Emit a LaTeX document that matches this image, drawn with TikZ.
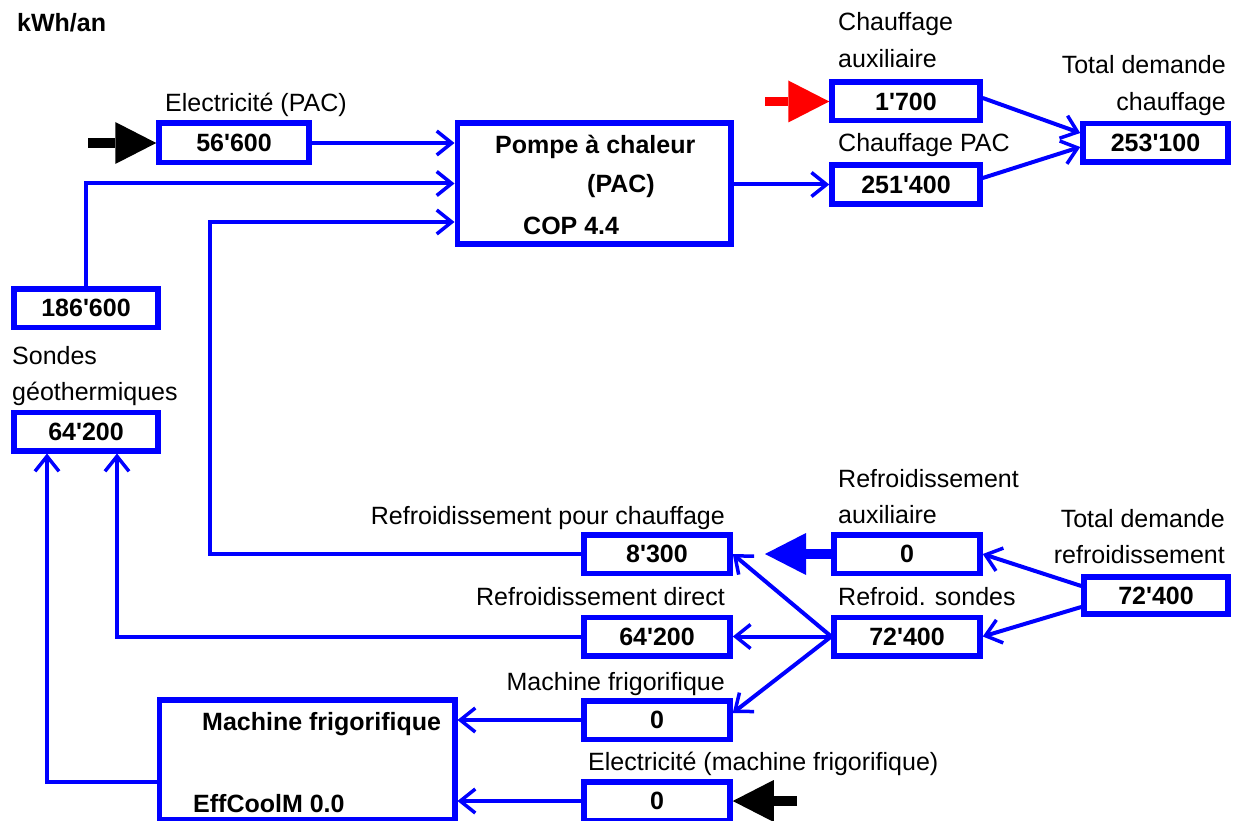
\documentclass[tikz,border=0pt]{standalone}
\usepackage{fontspec}
\setmainfont{Liberation Sans}[Ligatures=TeXOff]
\usetikzlibrary{arrows.meta}
\definecolor{fb}{RGB}{0,0,255}
\definecolor{fr}{RGB}{255,0,0}
\tikzset{
  box/.style={draw=fb, line width=5.5pt, inner sep=0pt, font=\fontsize{25}{30}\selectfont\bfseries},
  nbox/.style={box, minimum width=146pt, minimum height=38.5pt},
  lbl/.style={inner sep=0pt, font=\fontsize{25}{30}\selectfont},
  blbl/.style={inner sep=0pt, font=\fontsize{25}{30}\selectfont\bfseries},
  flow/.style={draw=fb, line width=4pt, -{Straight Barb[length=15pt,width=24pt,line width=3.5pt]}},
  fat/.style={line width=9.5pt, -{Triangle[length=41pt,width=42pt,line width=0pt]}}
}
\begin{document}
\begin{tikzpicture}[x=1pt,y=-1pt]
\useasboundingbox (0,0) rectangle (1233,821);

% boxes
\node[box, minimum width=150pt, minimum height=39.5pt] (e1) at (234,143) {56'600};
\node[box, minimum width=273.5pt, minimum height=120.5pt] (pac) at (594,183.5) {};
\node[nbox, minimum width=148pt] (aux1) at (906,101.5) {1'700};
\node[nbox, minimum width=148pt] (chpac) at (906,184.5) {251'400};
\node[nbox, minimum width=145pt] (totch) at (1155.5,143) {253'100};
\node[nbox, minimum width=144pt] (s186) at (86,308) {186'600};
\node[nbox, minimum width=144pt] (s64) at (86,431.5) {64'200};
\node[nbox] (r83) at (657,554) {8'300};
\node[nbox] (r64) at (657,636.5) {64'200};
\node[nbox] (rm0) at (657,720) {0};
\node[nbox] (re0) at (657,801) {0};
\node[box, minimum width=295.5pt, minimum height=120pt] (mach) at (307,760) {};
\node[nbox] (raux) at (907,554) {0};
\node[nbox] (rsond) at (907,636.5) {72'400};
\node[nbox, minimum width=144pt, minimum height=37pt] (rtot) at (1156,595.5) {72'400};

% texts inside big boxes
\node[blbl, anchor=base west] (p1) at (495,154) {Pompe à chaleur};
\node[blbl, anchor=base west] (p2) at (587,193) {(PAC)};
\node[blbl, anchor=base west] (p3) at (523,234) {COP 4.4};
\node[blbl, anchor=base west] (m1) at (202,730) {Machine frigorifique};
\node[blbl, anchor=base west] (m2) at (193,812) {EffCoolM 0.0};

% labels
\node[blbl, anchor=base west] (t0) at (17,32) {kWh/an};
\node[lbl, anchor=base west] (l1) at (165,112) {Electricité (PAC)};
\node[lbl, anchor=base west] (l2) at (838,31) {Chauffage};
\node[lbl, anchor=base west] (l3) at (838,68) {auxiliaire};
\node[lbl, anchor=base west] (l4) at (838,152) {Chauffage PAC};
\node[lbl, anchor=base east] (l5) at (1226,74) {Total demande};
\node[lbl, anchor=base east] (l6) at (1226,111) {chauffage};
\node[lbl, anchor=base west] (l7) at (12,364) {Sondes};
\node[lbl, anchor=base west] (l8) at (12,400) {géothermiques};
\node[lbl, anchor=base east] (l9) at (725,524) {Refroidissement pour chauffage};
\node[lbl, anchor=base east] (l10) at (725,605) {Refroidissement direct};
\node[lbl, anchor=base east] (l11) at (725,690) {Machine frigorifique};
\node[lbl, anchor=base west] (l12) at (588,770) {Electricité (machine frigorifique)};
\node[lbl, anchor=base west] (l13) at (838,487) {Refroidissement};
\node[lbl, anchor=base west] (l14) at (838,523) {auxiliaire};
\node[lbl, anchor=base west] (l15) at (838,605) {Refroid. sondes};
\node[lbl, anchor=base east] (l16) at (1225,527) {Total demande};
\node[lbl, anchor=base east] (l17) at (1225,563) {refroidissement};

% flows
\coordinate (c1) at (210,222);
\draw[flow] (e1.east) -- (e1.east -| pac.west);
\draw[flow] (s186.north) |- (pac.west);
\draw[flow] (r83.west) -| (c1) -- (c1 -| pac.west);
\draw[flow] (pac.east |- chpac.west) -- (chpac.west);
\draw[flow] ([yshift=3.5pt]aux1.east) -- ([yshift=10pt]totch.west);
\draw[flow] ([yshift=6.5pt]chpac.east) -- ([yshift=-4pt]totch.west);
\draw[flow] ([yshift=9.5pt]rtot.west) -- (raux.east);
\draw[flow] ([yshift=-11.5pt]rtot.west) -- (rsond.east);
\draw[flow] (rsond.west) -- (r83.east);
\draw[flow] (rsond.west) -- (r64.east);
\draw[flow] (rsond.west) -- ([yshift=7pt]rm0.east);
\draw[flow] (r64.west) -| ([xshift=31pt]s64.south);
\draw[flow] ([yshift=-22pt]mach.west) -| ([xshift=-39pt]s64.south);
\draw[flow] (rm0.west) -- (rm0.west -| mach.east);
\draw[flow] (re0.west) -- (re0.west -| mach.east);

% thick input arrows
\coordinate (k1) at (88,143);
\coordinate (k2) at (765,101.5);
\coordinate (k3) at (765,554);
\coordinate (k4) at (797,801);
\draw[fat, black] (k1) -- (e1.west);
\draw[fat, fr] (k2) -- (aux1.west);
\draw[fat, fb] (raux.west) -- (k3);
\draw[fat, black] (k4) -- (re0.east);
\end{tikzpicture}
\end{document}
